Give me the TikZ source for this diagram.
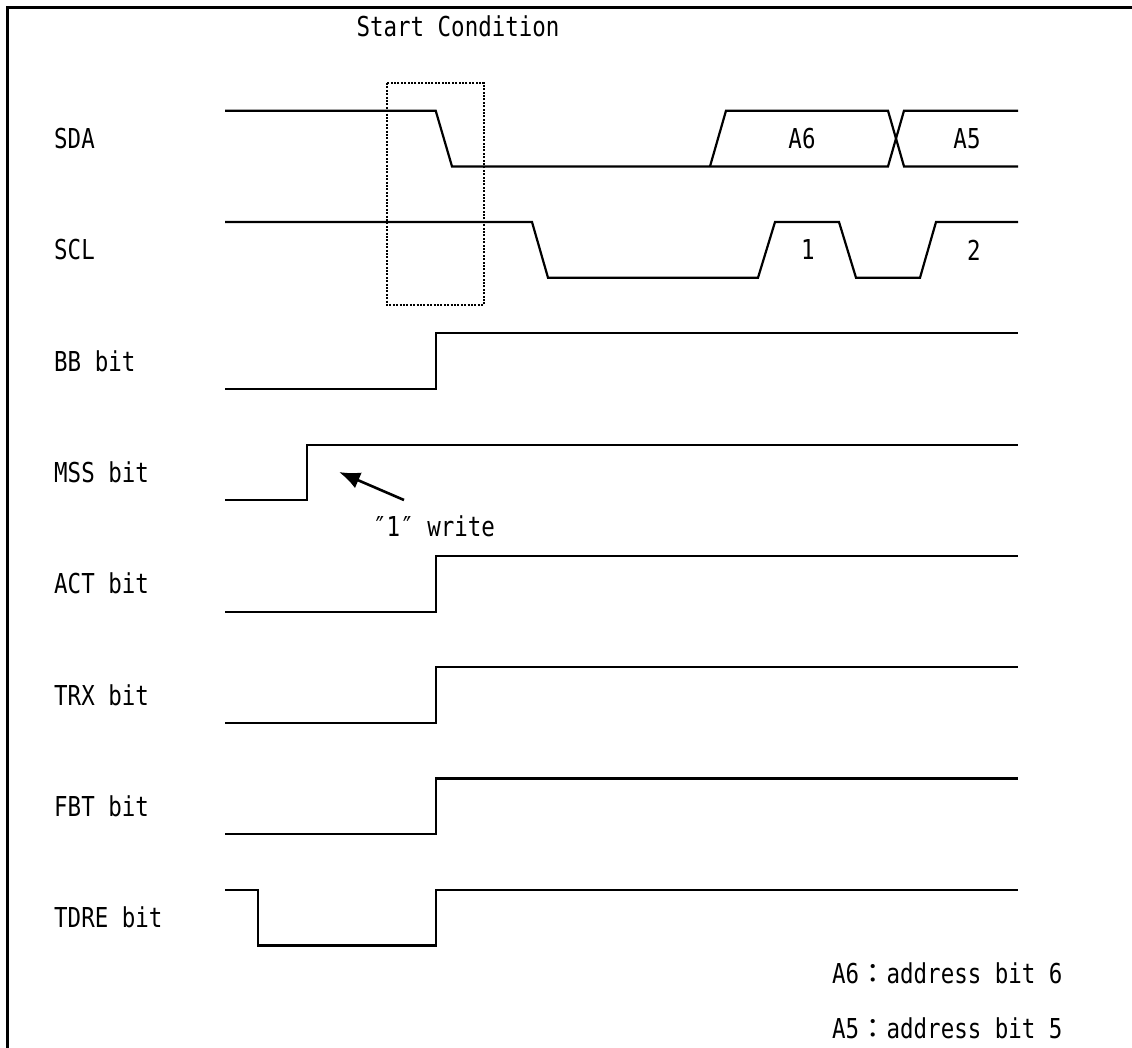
\documentclass[tikz,border=0pt]{standalone}
\usepackage{fontspec}
\newfontfamily\gothic[FakeStretch=0.82]{DejaVu Sans Mono}
\newfontfamily\cjk{Noto Sans CJK JP}
\usetikzlibrary{positioning, arrows.meta}

\begin{document}
\begin{tikzpicture}[x=1pt, y=-1pt, >={Latex[length=21pt, width=17pt]}, every node/.style={font=\gothic\fontsize{27.4}{30}\selectfont, inner sep=0pt},
    sig/.style={line width=2.2pt, line join=miter},
    lbl/.style={anchor=west}]
    \useasboundingbox (0,0) rectangle (1132,1047);
    \draw [line width=3pt] (7,1060) -- (7,7) -- (1140,7);

    \node (startcond) at (458,26) {Start Condition};
    \draw [line width=1.6pt, dash pattern=on 2pt off 1.4pt] (387,83) rectangle (484,305);

    \foreach \name [count=\i from 0] in {SDA, SCL, BB bit, MSS bit, ACT bit, TRX bit, FBT bit, TDRE bit}
        \node [lbl] (lbl\i) at (54,{138.5+111.3*\i}) {\name};

    \draw [sig] (225,110.7) -- (435.7,110.7) -- (452,166.4) -- (888,166.4) -- (904,110.7) -- (1018,110.7);
    \draw [sig] (710,166.4) -- (726,110.7) -- (888,110.7) -- (904,166.4) -- (1018,166.4);
    \node (a6) at (802,139) {A6};
    \node (a5) at (967,139) {A5};

    \draw [sig] (225,222) -- (532,222) -- (548,277.7) -- (758,277.7) -- (775,222) -- (839,222) -- (856,277.7) -- (920,277.7) -- (936,222) -- (1018,222);
    \node (clk1) at (808,250) {1};
    \node (clk2) at (974,250) {2};

    \foreach \i in {2,4,5,6}
        \draw [sig] (225,{166.4+111.3*\i}) -- (435.7,{166.4+111.3*\i}) -- (435.7,{110.7+111.3*\i}) -- (1018,{110.7+111.3*\i});

    \draw [sig] (225,500) -- (307,500) -- (307,444.6) -- (1018,444.6);
    \draw [sig] (225,889.8) -- (258,889.8) -- (258,945.5) -- (436,945.5) -- (436,889.8) -- (1018,889.8);

    \node [lbl] (wr) at (373,526) {″1″ write};
    \coordinate (wrtail) at (404,500);
    \coordinate (wrhead) at (339,472);
    \draw [->, line width=2.6pt] (wrtail) -- (wrhead);

    \node [lbl] (leg6) at (832,973) {A6{\cjk ：}address bit 6};
    \node [lbl] (leg5) at (832,1028) {A5{\cjk ：}address bit 5};
\end{tikzpicture}
\end{document}
